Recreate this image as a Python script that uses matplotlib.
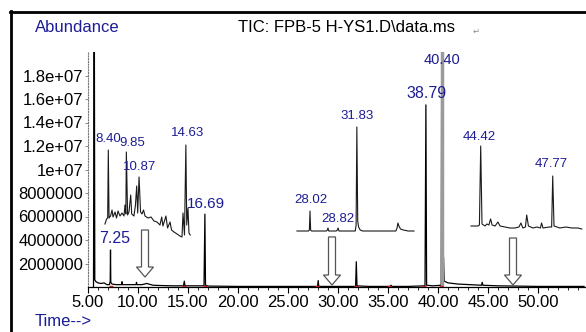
import matplotlib
matplotlib.use("Agg")
import matplotlib.pyplot as plt
from matplotlib.lines import Line2D
from matplotlib.patches import FancyArrow
import numpy as np

plt.rcParams['font.family'] = ['Liberation Sans', 'DejaVu Sans']

NAVY = '#1c1c96'

# main TIC trace (retention time, abundance)
main_rt = [5.55, 5.62, 5.68, 5.80, 6.00, 6.30, 6.60, 6.90, 7.15, 7.22, 7.25, 7.28, 7.40,
           7.80, 8.35, 8.40, 8.45, 9.00, 9.80, 9.85, 9.90, 10.40, 10.87, 11.5, 12.5, 13.5,
           14.55, 14.63, 14.70, 15.5, 16.60, 16.69, 16.75, 17.0, 20.0, 24.0, 27.95, 28.02,
           28.08, 29.0, 31.76, 31.83, 31.90, 33.0, 35.2, 35.3, 35.4, 37.0, 38.70, 38.79,
           38.86, 39.5, 40.32, 40.38, 40.44, 40.50, 40.55, 40.62, 41.0, 42.0, 44.35, 44.42,
           44.49, 46.0, 50.0, 54.6]
main_ab = [0.0, 30.0, 0.6, 0.45, 0.35, 0.3, 0.35, 0.2, 0.2, 0.5, 3.15, 0.4, 0.25,
           0.2, 0.2, 0.45, 0.2, 0.2, 0.2, 0.4, 0.2, 0.2, 0.3, 0.15, 0.12, 0.1,
           0.1, 0.5, 0.1, 0.1, 0.1, 6.2, 0.15, 0.08, 0.05, 0.05, 0.05, 0.55,
           0.05, 0.05, 0.05, 2.15, 0.1, 0.05, 0.05, 0.15, 0.05, 0.05, 0.1, 15.5,
           0.15, 0.1, 0.15, 25.0, 25.0, 0.8, 2.5, 0.5, 0.35, 0.25, 0.15, 0.4,
           0.15, 0.1, 0.05, 0.05]
main_ab = [v * 1e6 for v in main_ab]

big_peak_rt = 40.40
big_peak_ab = 25.0e6

red_marks = [7.25, 14.6, 16.69, 27.9, 31.83, 35.1, 38.6, 40.3]

main_labels = ["7.25", "16.69", "38.79", "40.40"]
main_label_rt = [7.25, 16.69, 38.79, 40.40]
main_label_ab = [3.15e6, 6.2e6, 15.5e6, 20.0e6]

# zoomed insets (relative abundance)
ins1_rt = [8.13, 8.26, 8.35, 8.40, 8.46, 8.58, 8.70, 8.78, 8.94, 9.06, 9.18, 9.34, 9.50,
           9.66, 9.74, 9.81, 9.85, 9.95, 10.06, 10.20, 10.28, 10.46, 10.58, 10.68, 10.76,
           10.87, 10.99, 11.11, 11.23, 11.35, 11.59, 11.83, 12.07, 12.31, 12.55, 12.69,
           12.79, 13.03, 13.16, 13.36, 13.48, 13.68, 13.92, 14.16, 14.32, 14.40, 14.52,
           14.63, 14.70, 14.80, 14.88, 14.98]
ins1_val = [16, 21, 22, 90, 22, 24, 30, 23, 28, 22, 29, 24, 27,
            24, 35, 26, 88, 25, 28, 45, 26, 24, 35, 54, 27,
            63, 28, 26, 30, 24, 22, 23, 19, 18, 15, 23,
            14, 24, 12, 18, 10, 8, 6, 4, 3, 27, 5,
            95, 15, 32, 7, 5]
ins1_labels = ["8.40", "9.85", "10.87", "14.63"]
ins1_label_rt = [8.40, 9.85, 10.87, 14.63]
ins1_label_val = [90, 88, 63, 95]

ins2_rt = [26.96, 27.90, 27.97, 28.02, 28.07, 28.14, 29.35, 29.43, 29.48, 29.55, 30.15,
           30.25, 30.30, 30.38, 31.70, 31.77, 31.83, 31.90, 31.97, 32.10, 32.3, 35.00,
           35.10, 35.17, 35.25, 35.38, 35.60, 36.0, 36.48]
ins2_val = [4, 4, 5, 24, 5, 4, 4, 5, 7, 4, 4,
            5, 7, 4, 4, 10, 108, 14, 8, 5, 4, 4,
            7, 12, 9, 6, 5, 4, 4]
ins2_labels = ["28.02", "28.82", "31.83"]
ins2_label_rt = [28.02, 30.30, 31.83]
ins2_label_val = [24, 7, 108]

ins3_rt = [43.97, 44.29, 44.36, 44.42, 44.48, 44.62, 44.71, 44.80, 44.88, 44.95, 45.09,
           45.22, 45.32, 45.55, 45.78, 46.01, 46.20, 46.29, 46.38, 46.50, 46.56, 46.64,
           46.85, 47.04, 47.20, 47.25, 47.32, 47.60, 47.72, 47.77, 47.83, 48.10, 48.38,
           48.66, 48.94, 49.12]
ins3_val = [9, 9, 10, 89, 11, 9, 11, 10, 16, 10, 9,
            13, 9, 8, 7, 7, 8, 12, 7, 8, 20, 9,
            7, 8, 7, 12, 7, 8, 8, 59, 9, 7, 8,
            7, 7, 6]
ins3_labels = ["44.42", "47.77"]
ins3_label_rt = [44.42, 47.77]
ins3_label_val = [89, 59]

arrow_rt = [10.7, 29.4, 47.5]
arrow_top = [4.85e6, 4.26e6, 4.17e6]
arrow_tip = [0.85e6, 0.17e6, 0.17e6]

x_ticks = [5, 10, 15, 20, 25, 30, 35, 40, 45, 50]
y_ticks = [2e6, 4e6, 6e6, 8e6, 1e7, 1.2e7, 1.4e7, 1.6e7, 1.8e7]
y_tick_labels = ["2000000", "4000000", "6000000", "8000000", "1e+07",
                 "1.2e+07", "1.4e+07", "1.6e+07", "1.8e+07"]

W, H = 586, 332
fig = plt.figure(figsize=(W / 100, H / 100), dpi=100)


def px_axes(x0, x1, y_top, y_bot):
    return fig.add_axes([x0 / W, (H - y_bot) / H, (x1 - x0) / W, (y_bot - y_top) / H])


ax = px_axes(88, 585, 52, 287)
ax.plot(main_rt, main_ab, color='black', lw=0.9)
ax.vlines(big_peak_rt, 0, big_peak_ab, color='#9a9a9a', lw=2.5)
ax.plot(red_marks, [0.05e6] * len(red_marks), ls='none', marker='_', ms=3.5, mew=1.0,
        color='#e02020')
ax.set_xlim(5, 54.7)
ax.set_ylim(0, 2.0e7)

ax.set_xticks(x_ticks)
ax.set_xticklabels([f"{t:.2f}" for t in x_ticks])
ax.set_xticks(np.arange(6, 55, 1), minor=True)
ax.set_yticks(y_ticks)
ax.set_yticklabels(y_tick_labels)
ax.tick_params(axis='x', which='major', length=4, width=0.8, labelsize=12, pad=2)
ax.tick_params(axis='x', which='minor', length=2.5, width=0.6)
ax.tick_params(axis='y', which='major', length=2, width=0.6, color='#777777',
               labelsize=12, pad=1.5)
for s in ['top', 'right']:
    ax.spines[s].set_visible(False)
ax.spines['bottom'].set_linewidth(0.9)
ax.spines['left'].set_linestyle((0, (1, 1.5)))
ax.spines['left'].set_color('#777777')
ax.spines['left'].set_linewidth(0.8)
ax.patch.set_alpha(0)

for lab, rt, ab, fs, dx, dy in zip(main_labels, main_label_rt, main_label_ab,
                                   [11.5, 11, 11.5, 10.5], [4, 1, 1, 0], [11, 10, 11, -8]):
    ax.annotate(lab, (rt, ab), xytext=(dx, dy), textcoords='offset pixels',
                ha='center', va='center', fontsize=fs, color=NAVY, annotation_clip=False)

for rt, top, tip in zip(arrow_rt, arrow_top, arrow_tip):
    ax.add_patch(FancyArrow(rt, top, 0, tip - top, width=0.7, head_width=1.7,
                            head_length=0.85e6, length_includes_head=True,
                            fc='white', ec='#555555', lw=0.9, zorder=5))

insets = [
    ((100, 192, 140, 240), (7.733, 15.123), 100, ins1_rt, ins1_val, ins1_labels,
     ins1_label_rt, ins1_label_val, [0, 6, 1, 2], [11, 9, 10, 12]),
    ((295, 416, 120, 235), (26.80, 36.64), 115, ins2_rt, ins2_val, ins2_labels,
     ins2_label_rt, ins2_label_val, [1, 0, 0], [11, 9, 11]),
    ((468, 586, 130, 235), (43.829, 49.318), 105, ins3_rt, ins3_val, ins3_labels,
     ins3_label_rt, ins3_label_val, [-1, -1], [9, 12]),
]
for box, xl, ytop, rts, vals, labs, lrt, lval, dxs, dys in insets:
    ia = px_axes(*box)
    ia.plot(rts, vals, color='#1a1a1a', lw=0.8)
    ia.set_xlim(*xl)
    ia.set_ylim(0, ytop)
    ia.axis('off')
    for lab, rt, v, dx, dy in zip(labs, lrt, lval, dxs, dys):
        ia.annotate(lab, (rt, v), xytext=(dx, dy), textcoords='offset pixels',
                    ha='center', va='center', fontsize=9.5, color=NAVY,
                    annotation_clip=False)

fig.text(35 / W, 1 - 28 / H, "Abundance", ha='left', va='center', fontsize=12, color=NAVY)
fig.text(346 / W, 1 - 28 / H, "TIC: FPB-5 H-YS1.D\\data.ms", ha='center', va='center',
         fontsize=12, color='black')
fig.text(476 / W, 1 - 31 / H, "\u21b5", ha='center', va='center', fontsize=6,
         color='#888888', family=['DejaVu Sans'])
fig.text(35 / W, 1 - 322 / H, "Time-->", ha='left', va='center', fontsize=12, color=NAVY)

fig.add_artist(Line2D([10.5 / W, 10.5 / W], [0, 1 - 11 / H], transform=fig.transFigure,
                      color='black', lw=2))
fig.add_artist(Line2D([10 / W, 1], [1 - 11.5 / H, 1 - 11.5 / H], transform=fig.transFigure,
                      color='black', lw=2))

fig.savefig("out.png", dpi=100)
